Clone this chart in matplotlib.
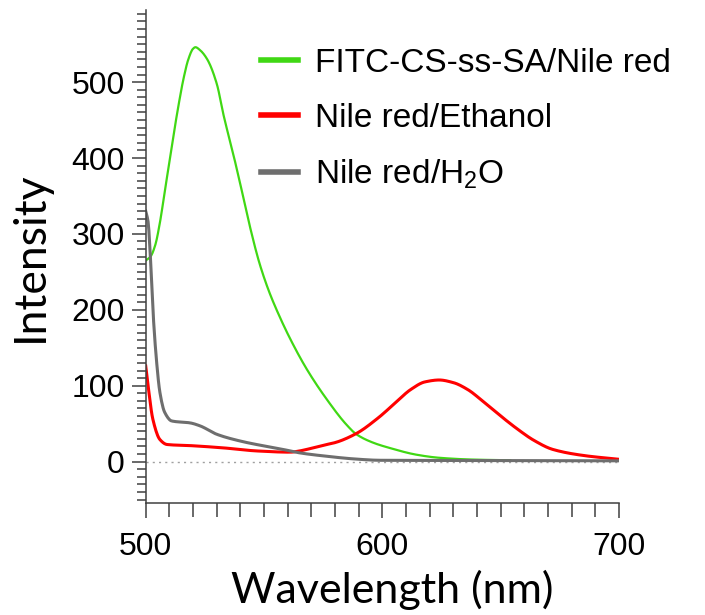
import numpy as np
import matplotlib.pyplot as plt
from matplotlib.ticker import MultipleLocator

plt.rcParams['font.family'] = ['Liberation Sans', 'DejaVu Sans']
plt.rcParams['mathtext.fontset'] = 'custom'
plt.rcParams['mathtext.rm'] = 'Liberation Sans'
plt.rcParams['mathtext.it'] = 'Liberation Sans:italic'

# emission spectra (wavelength in nm, intensity in a.u.)
wl_fitc = [500, 502, 504, 506, 508, 510, 512, 514, 516, 518, 520, 521, 523, 526,
           530, 533, 537, 540, 544, 548, 552, 556, 561, 568, 576.5, 585, 589, 596,
           603, 614.5, 624, 638.5, 654]
int_fitc = [265, 270, 285, 315, 355, 395, 435, 472, 505, 530, 544, 546, 542, 530,
            498, 455, 405, 365, 310, 262, 225, 195, 162, 122, 82, 48, 36, 25,
            18, 9, 5, 2.6, 1.7]

wl_etoh = [500, 501, 503, 506, 509, 519, 533, 547, 561, 565, 568, 576.5, 580,
           589, 598, 605, 612, 618, 624, 630, 636, 643, 650, 657, 664, 672, 685, 700]
int_etoh = [126, 100, 56, 29, 22.5, 21, 18, 14, 12.4, 14, 16, 22.5, 25,
            37, 57, 76, 95, 105, 107.5, 104, 95, 78, 60, 43, 28, 16, 8, 3]

wl_h2o = [500, 501, 502, 503, 504.5, 506, 508, 511, 518.7, 523, 530, 540, 551,
          558, 565, 576.5, 588, 599, 620, 650, 700]
int_h2o = [330, 316, 268, 202, 135, 91, 65, 53.5, 51, 47, 36, 27, 20,
           16, 11.5, 7, 3.5, 1.7, 1.5, 1.2, 1]

labels = ['FITC-CS-ss-SA/Nile red', 'Nile red/Ethanol', 'Nile red/H$_2$O']
colors = ['#40d814', '#ff0000', '#6e6e6e']


def pchip(x, y, n=600):
    # Fritsch-Carlson monotone cubic, keeps peaks without overshoot
    x = np.asarray(x, float)
    y = np.asarray(y, float)
    h = np.diff(x)
    d = np.diff(y) / h
    m = np.zeros_like(y)
    for i in range(1, len(x) - 1):
        if d[i - 1] * d[i] > 0:
            w1 = 2 * h[i] + h[i - 1]
            w2 = h[i] + 2 * h[i - 1]
            m[i] = (w1 + w2) / (w1 / d[i - 1] + w2 / d[i])
    m[0] = d[0]
    m[-1] = d[-1]
    xs = np.linspace(x[0], x[-1], n)
    idx = np.clip(np.searchsorted(x, xs) - 1, 0, len(x) - 2)
    t = (xs - x[idx]) / h[idx]
    h00 = 2 * t**3 - 3 * t**2 + 1
    h10 = t**3 - 2 * t**2 + t
    h01 = -2 * t**3 + 3 * t**2
    h11 = t**3 - t**2
    ys = h00 * y[idx] + h10 * h[idx] * m[idx] + h01 * y[idx + 1] + h11 * h[idx] * m[idx + 1]
    return xs, ys


fig = plt.figure(figsize=(7.05, 6.15), dpi=100)
ax = fig.add_axes([0.2067, 0.1816, 0.6714, 0.8021])

ax.axhline(0, color='#a0a0a0', lw=1.0, ls=(0, (1.5, 3)), zorder=1)

series = [(wl_fitc, int_fitc, 1.6), (wl_etoh, int_etoh, 2.2), (wl_h2o, int_h2o, 2.2)]
for (x, y, lw), lab, c in zip(series, labels, colors):
    xs, ys = pchip(x, y)
    ax.plot(xs, ys, color=c, lw=lw, label=lab, zorder=2)

ax.set_xlim(500, 700)
ax.set_ylim(-55, 595)

for s in ['top', 'right']:
    ax.spines[s].set_visible(False)
for s in ['left', 'bottom']:
    ax.spines[s].set_color('#404040')
    ax.spines[s].set_linewidth(1.1)

ax.xaxis.set_major_locator(MultipleLocator(100))
ax.xaxis.set_minor_locator(MultipleLocator(10))
ax.yaxis.set_major_locator(MultipleLocator(100))
ax.yaxis.set_minor_locator(MultipleLocator(10))
ax.set_yticks(np.arange(0, 501, 100))

ax.tick_params(axis='x', which='major', length=11, width=1.1, color='#404040',
               labelsize=23, pad=10)
ax.tick_params(axis='x', which='minor', length=10, width=1.1, color='#404040')
ax.tick_params(axis='y', which='major', length=10, width=1.1, color='#404040',
               labelsize=23, pad=5)
ax.tick_params(axis='y', which='minor', length=6.5, width=1.1, color='#404040')

ax.set_xlabel('Wavelength (nm)', family=['Lato', 'DejaVu Sans'], fontsize=31)
ax.xaxis.set_label_coords(0.52, -0.135)
ax.set_ylabel('Intensity', family=['Lato', 'DejaVu Sans'], fontsize=32)
ax.yaxis.set_label_coords(-0.2, 0.5)

leg = ax.legend(loc='upper left', bbox_to_anchor=(0.216, 0.951), frameon=False,
                fontsize=24, handlelength=1.1, handletextpad=0.5, labelspacing=0.72,
                borderaxespad=0)
for h in leg.get_lines():
    h.set_linewidth(4)

fig.savefig('out.png', dpi=100)
